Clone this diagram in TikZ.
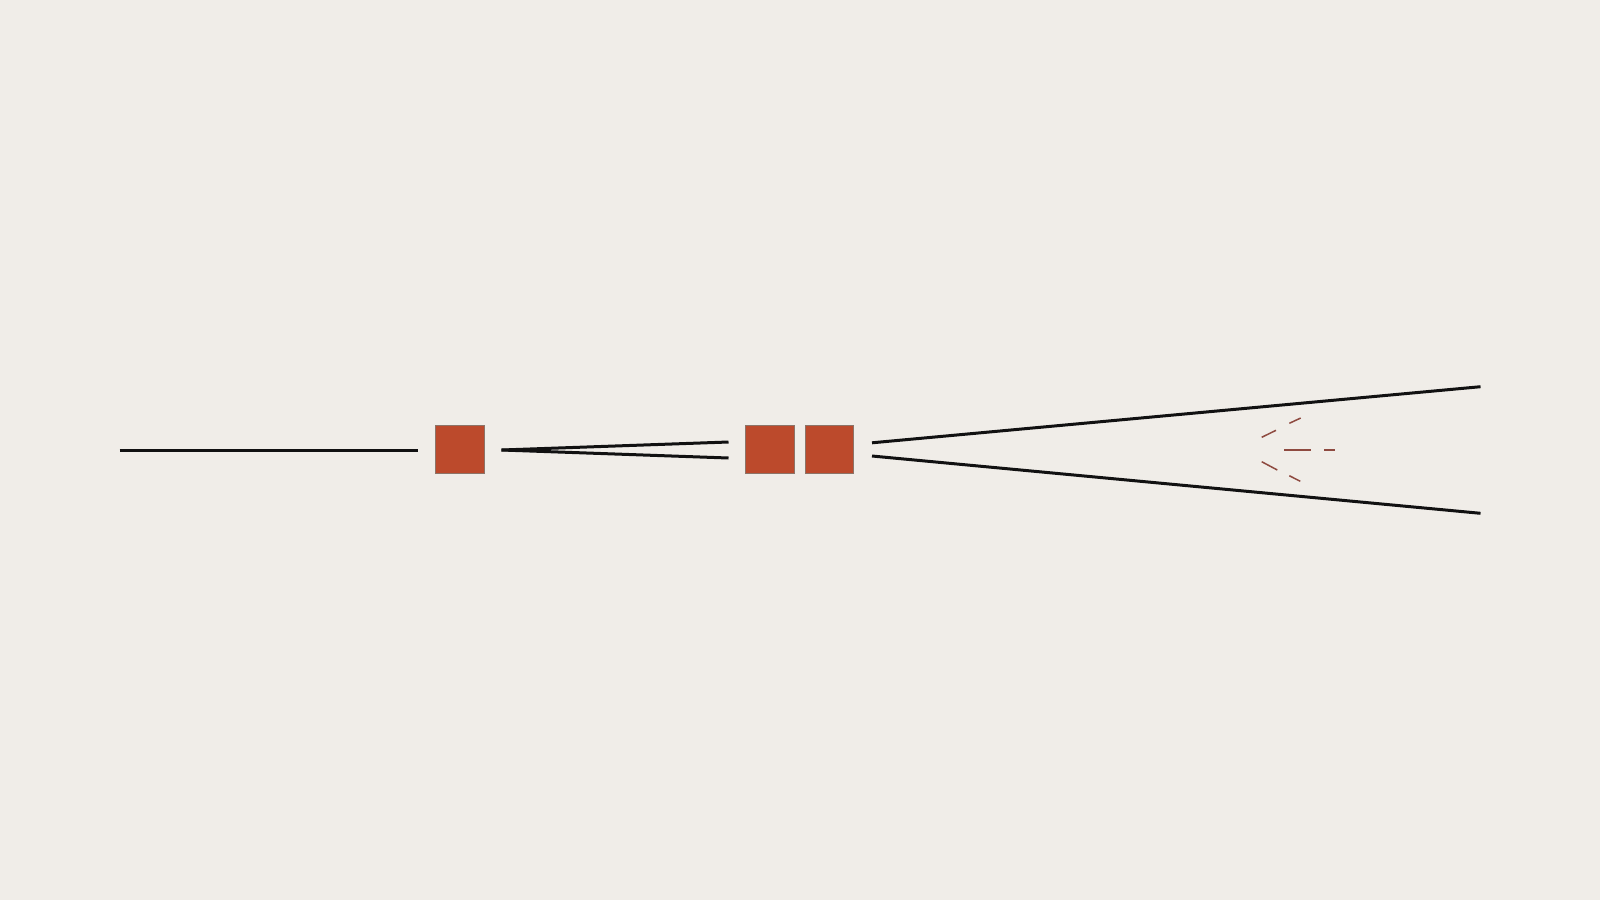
\documentclass[tikz,border=0pt]{standalone}
\definecolor{bgc}{HTML}{F0EDE8}
\definecolor{sq}{HTML}{BC4A2C}
\definecolor{sqedge}{HTML}{8C7468}
\definecolor{ink}{HTML}{111111}
\definecolor{dsh}{HTML}{8E4A40}
\tikzset{
  block/.style={draw=sqedge, line width=0.4pt, fill=sq, minimum width=24.2pt, minimum height=24pt, inner sep=0pt},
  wire/.style={draw=ink, line width=1.5pt},
  ghost/.style={draw=dsh, line width=0.75pt}
}
\begin{document}
\begin{tikzpicture}[x=0.5pt,y=-0.5pt]
\fill[bgc] (0,0) rectangle (1600,900);
\useasboundingbox (0,0) rectangle (1600,900);
% blocks
\node[block] (s1) at (460,449.5) {};
\node[block] (s2) at (770,449.5) {};
\node[block] (s3) at (829.5,449.5) {};
% coordinates
\coordinate (a0) at (119.5,450);
\coordinate (a1) at (417.5,450);
\coordinate (b0) at (501.5,450);
\coordinate (b1) at (728.5,442);
\coordinate (b2) at (728.5,458);
\coordinate (c0) at (872,442.8);
\coordinate (c1) at (1480.5,386.7);
\coordinate (d0) at (872,456);
\coordinate (d1) at (1480.5,513.3);
\draw[wire] (a0) -- (a1);
\draw[wire] (b0) -- (b1);
\draw[wire] (b0) -- (b2);
\draw[wire] (c0) -- (c1);
\draw[wire] (d0) -- (d1);
% faint dashed arrow
\coordinate (e0) at (1261.7,437.3);
\coordinate (e1) at (1276,430.3);
\coordinate (e2) at (1289.3,423.3);
\coordinate (e3) at (1300.7,418);
\coordinate (f0) at (1261.7,461.7);
\coordinate (f1) at (1277.3,470);
\coordinate (f2) at (1289.3,475.7);
\coordinate (f3) at (1300.3,481.3);
\coordinate (g0) at (1284,450);
\coordinate (g1) at (1311,450);
\coordinate (g2) at (1324,450);
\coordinate (g3) at (1335.3,450);
\draw[ghost] (e0) -- (e1);
\draw[ghost] (e2) -- (e3);
\draw[ghost] (f0) -- (f1);
\draw[ghost] (f2) -- (f3);
\draw[ghost] (g0) -- (g1);
\draw[ghost] (g2) -- (g3);
\end{tikzpicture}
\end{document}
